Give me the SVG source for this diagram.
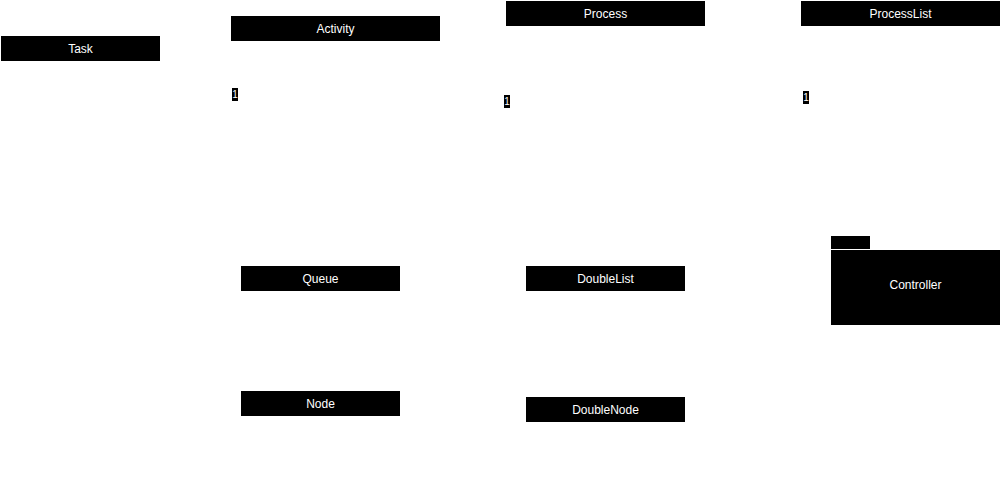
<svg xmlns="http://www.w3.org/2000/svg" width="1001" height="486" viewBox="0 0 1001 486">
<style>
.box{fill:#000}
.lbl{fill:#fff;font-family:"Liberation Sans",Arial,sans-serif;font-size:12px;text-anchor:middle;dominant-baseline:central}
.m{fill:#fff;font-family:"Liberation Sans",Arial,sans-serif;font-size:10px;text-anchor:middle;dominant-baseline:central}
</style>
<rect width="1001" height="486" fill="#fff"/>
<g id="task"><rect class="box" x="1" y="36" width="159" height="25"/><text class="lbl" x="80.5" y="48.5">Task</text></g>
<g id="activity"><rect class="box" x="231" y="16" width="209" height="25"/><text class="lbl" x="335.5" y="28.5">Activity</text></g>
<g id="process"><rect class="box" x="506" y="1" width="199" height="25"/><text class="lbl" x="605.5" y="13.5">Process</text></g>
<g id="processlist"><rect class="box" x="801" y="1" width="199" height="25"/><text class="lbl" x="900.5" y="13.5">ProcessList</text></g>
<g id="queue"><rect class="box" x="241" y="266" width="159" height="25"/><text class="lbl" x="320.5" y="278.5">Queue</text></g>
<g id="doublelist"><rect class="box" x="526" y="266" width="159" height="25"/><text class="lbl" x="605.5" y="278.5">DoubleList</text></g>
<g id="node"><rect class="box" x="241" y="391" width="159" height="25"/><text class="lbl" x="320.5" y="403.5">Node</text></g>
<g id="doublenode"><rect class="box" x="526" y="397" width="159" height="25"/><text class="lbl" x="605.5" y="409.5">DoubleNode</text></g>
<g id="controller"><rect class="box" x="831" y="236" width="39" height="13"/><rect class="box" x="831" y="250" width="169" height="75"/><text class="lbl" x="915.5" y="285">Controller</text></g>
<g id="connectors">
<g><rect class="box" x="232" y="88" width="6" height="13"/><text class="m" x="235" y="94.5">1</text></g>
<g><rect class="box" x="504" y="95" width="6" height="13"/><text class="m" x="507" y="101.5">1</text></g>
<g><rect class="box" x="803" y="91" width="6" height="13"/><text class="m" x="806" y="97.5">1</text></g>
</g>
</svg>
